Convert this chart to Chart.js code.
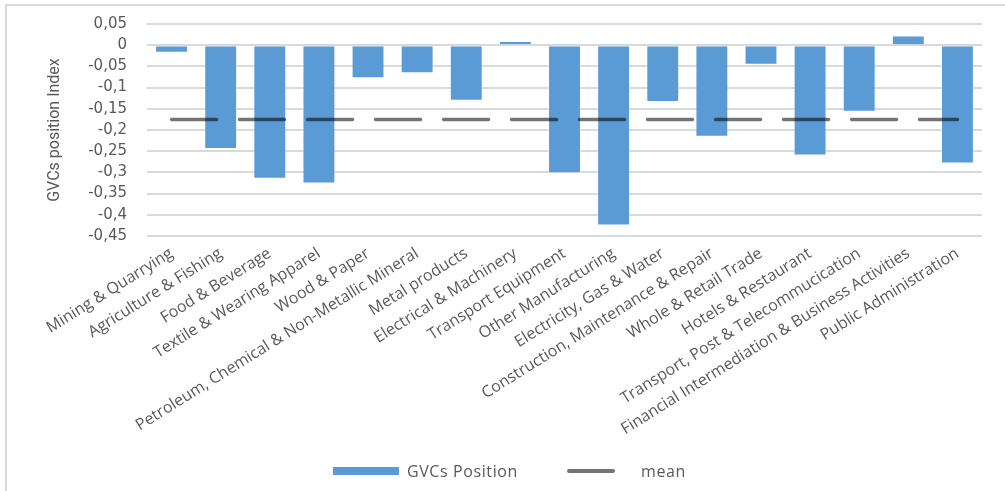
<!DOCTYPE html>
<html>
<head>
<meta charset="utf-8">
<script src="https://cdn.jsdelivr.net/npm/chart.js@4"></script>
<style>
  html, body { margin: 0; padding: 0; background: #ffffff; }
  #wrap { position: relative; width: 1005px; height: 491px; overflow: hidden; }
  #frame { position: absolute; left: 5px; top: 4px; right: 0; bottom: 0;
           border-left: 2px solid #d9d9d9; border-top: 2px solid #d9d9d9; }
  #chart { position: absolute; left: 0; top: 0; }
  .legend { position: absolute; top: 460px; height: 22px; left: 0; width: 1005px;
            font-family: "Open Sans", sans-serif; font-size: 16px; color: #595959; letter-spacing: 0.6px; }
  .legend .sw { position: absolute; }
  .legend .tx { position: absolute; top: 0; line-height: 22px; }
</style>
</head>
<body>
<div id="wrap">
  <div id="frame"></div>
  <canvas id="chart" width="1005" height="491"></canvas>
  <div class="legend">
    <div class="sw" style="left:333px; top:7px; width:66px; height:8px; background:#5b9bd5;"></div>
    <div class="tx" style="left:407px;">GVCs Position</div>
    <div class="sw" style="left:567px; top:9px; width:48px; height:4px; border-radius:2px; background:rgba(0,0,0,0.55);"></div>
    <div class="tx" style="left:641px;">mean</div>
  </div>
</div>
<script>
// Sector names along the horizontal axis
const categories = [
  "Mining & Quarrying",
  "Agriculture & Fishing",
  "Food & Beverage",
  "Textile & Wearing Apparel",
  "Wood & Paper",
  "Petroleum, Chemical & Non-Metallic Mineral",
  "Metal products",
  "Electrical & Machinery",
  "Transport Equipment",
  "Other Manufacturing",
  "Electricity, Gas & Water",
  "Construction, Maintenance & Repair",
  "Whole & Retail Trade",
  "Hotels & Restaurant",
  "Transport, Post & Telecommucication",
  "Financial Intermediation & Business Activities",
  "Public Administration"
];

// GVC position index per sector
const gvcPosition = [
  -0.018, -0.245, -0.315, -0.326, -0.078, -0.066, -0.131, 0.010, -0.302,
  -0.425, -0.134, -0.216, -0.046, -0.260, -0.157, 0.023, -0.279
];

// Average position across all sectors
const meanSeries = [
  -0.175, -0.175, -0.175, -0.175, -0.175, -0.175, -0.175, -0.175, -0.175,
  -0.175, -0.175, -0.175, -0.175, -0.175, -0.175, -0.175, -0.175
];

// Value axis range and step
const yMin = -0.45;
const yMax = 0.05;
const yStep = 0.05;

const fmtComma = v => {
  const r = Math.round(v * 100) / 100;
  return String(r).replace('.', ',');
};

const textColor = '#595959';

new Chart(document.getElementById('chart'), {
  type: 'bar',
  data: {
    labels: categories,
    datasets: [
      {
        type: 'line',
        label: 'mean',
        data: meanSeries,
        borderColor: 'rgba(0,0,0,0.55)',
        borderWidth: 3.5,
        borderDash: [45, 23],
        borderCapStyle: 'round',
        pointRadius: 0,
        fill: false,
        order: 0
      },
      {
        type: 'bar',
        label: 'GVCs Position',
        data: gvcPosition,
        backgroundColor: '#5b9bd5',
        borderColor: 'rgba(255,255,255,0.45)',
        borderWidth: 1,
        barPercentage: 0.67,
        categoryPercentage: 1.0,
        order: 1
      }
    ]
  },
  options: {
    responsive: false,
    animation: false,
    devicePixelRatio: 1,
    layout: { padding: { left: 45, right: 23, top: 24, bottom: 0 } },
    plugins: {
      legend: { display: false },
      tooltip: { enabled: false }
    },
    scales: {
      x: {
        grid: { display: false, drawTicks: false },
        border: { display: false },
        ticks: {
          color: textColor,
          font: { family: '"Open Sans", sans-serif', size: 16 },
          minRotation: 32,
          maxRotation: 32,
          autoSkip: false,
          padding: 8
        },
        afterFit: s => { s.height = 255; }
      },
      y: {
        min: yMin,
        max: yMax,
        grid: { display: true, color: '#d9d9d9', lineWidth: 2, drawTicks: false, drawOnChartArea: true },
        border: { display: false },
        ticks: {
          stepSize: yStep,
          autoSkip: false,
          color: textColor,
          font: { family: '"DejaVu Sans", sans-serif', size: 15, lineHeight: 1 },
          padding: 20,
          callback: v => fmtComma(v)
        },
        title: {
          display: true,
          text: 'GVCs position Index',
          color: textColor,
          font: { family: '"Liberation Sans Narrow", "Roboto", sans-serif', size: 16 },
          padding: 0
        },
        afterFit: s => { s.width = 102; s.paddingTop = 0; s.paddingBottom = 0; }
      }
    }
  }
});
</script>
</body>
</html>
